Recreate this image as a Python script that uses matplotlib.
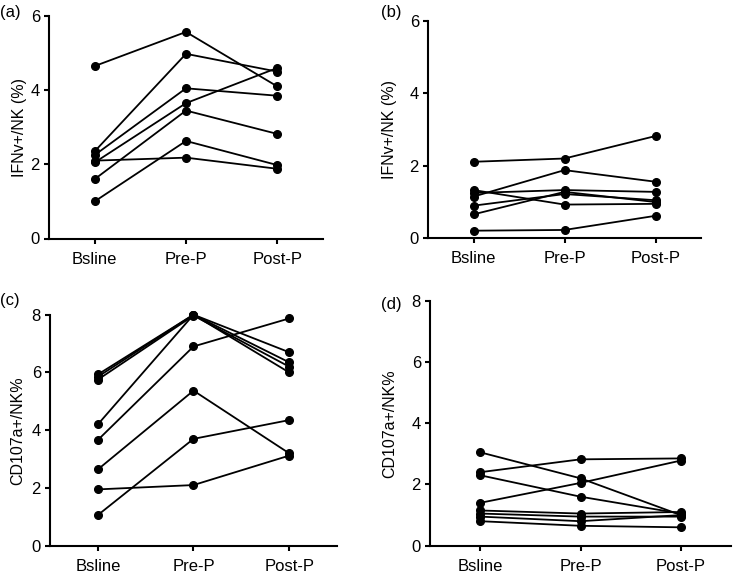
import matplotlib
matplotlib.use("Agg")
import matplotlib.pyplot as plt

plt.rcParams['font.family'] = ['Liberation Sans', 'DejaVu Sans']

categories = ["Bsline", "Pre-P", "Post-P"]

# Panel (a): IFNv+/NK (%)
a_series = [
    [4.65, 5.57, 4.10],
    [2.35, 4.98, 4.50],
    [2.25, 4.05, 3.85],
    [2.05, 3.65, 4.60],
    [1.60, 3.45, 2.82],
    [2.10, 2.18, 1.88],
    [1.00, 2.63, 1.98],
]
# Panel (b): IFNv+/NK (%)
b_series = [
    [2.11, 2.20, 2.82],
    [1.15, 1.88, 1.56],
    [1.33, 0.93, 0.95],
    [1.25, 1.33, 1.28],
    [0.90, 1.22, 1.05],
    [0.66, 1.28, 1.00],
    [0.21, 0.23, 0.62],
]
# Panel (c): CD107a+/NK%
c_series = [
    [5.93, 8.00, 6.70],
    [5.85, 8.00, 6.35],
    [5.75, 7.97, 6.20],
    [4.20, 8.00, 6.00],
    [3.66, 6.90, 7.87],
    [2.64, 5.37, 3.20],
    [1.06, 3.70, 4.35],
    [1.95, 2.10, 3.12],
]
# Panel (d): CD107a+/NK%
d_series = [
    [3.05, 2.20, 1.00],
    [2.40, 2.82, 2.85],
    [2.30, 1.60, 1.05],
    [1.40, 2.05, 2.78],
    [1.15, 1.05, 1.10],
    [1.05, 0.95, 0.95],
    [0.95, 0.80, 1.00],
    [0.80, 0.65, 0.60],
]

ylabel_ifn = "IFNv+/NK (%)"
ylabel_cd = "CD107a+/NK%"

W, H = 738, 578
fig = plt.figure(figsize=(W / 100, H / 100), dpi=100)


def px_axes(left, top, right, bottom):
    return fig.add_axes([left / W, 1 - bottom / H, (right - left) / W, (bottom - top) / H])


panels = [
    ((49, 16, 323, 238.5), a_series, 6, [0, 2, 4, 6], ylabel_ifn, "(a)", (0, 12), 20),
    ((428, 20.7, 701, 238.3), b_series, 6, [0, 2, 4, 6], ylabel_ifn, "(b)", (381, 13), 389.5),
    ((50, 314.7, 337, 545.7), c_series, 8, [0, 2, 4, 6, 8], ylabel_cd, "(c)", (0, 301), 17.5),
    ((430, 300.7, 731, 545.7), d_series, 8, [0, 2, 4, 6, 8], ylabel_cd, "(d)", (381, 305), 389.5),
]

x = list(range(len(categories)))
for box, series, ymax, yticks, ylab, lab, labpos, ylx in panels:
    ax = px_axes(*box)
    for s in series:
        ax.plot(x, s, color='black', lw=1.3, marker='o', ms=5.5,
                mfc='black', mec='black', clip_on=False, zorder=3)
    ax.set_xlim(-0.5, 2.5)
    ax.set_ylim(0, ymax)
    ax.set_xticks(x)
    ax.set_xticklabels(categories, fontsize=12)
    ax.set_yticks(yticks)
    ax.set_yticklabels([str(t) for t in yticks], fontsize=12)
    for sp in ['top', 'right']:
        ax.spines[sp].set_visible(False)
    for sp in ['left', 'bottom']:
        ax.spines[sp].set_linewidth(1.5)
    ax.tick_params(axis='both', direction='out', length=3.5, width=1.5, pad=3)
    ax.tick_params(axis='x', pad=6)
    fig.text(labpos[0] / W, 1 - labpos[1] / H, lab, fontsize=12, ha='left', va='center')
    fig.text(ylx / W, 1 - ((box[1] + box[3]) / 2) / H, ylab, fontsize=11.5,
             rotation=90, ha='center', va='center')

fig.savefig("out.png", dpi=100)
